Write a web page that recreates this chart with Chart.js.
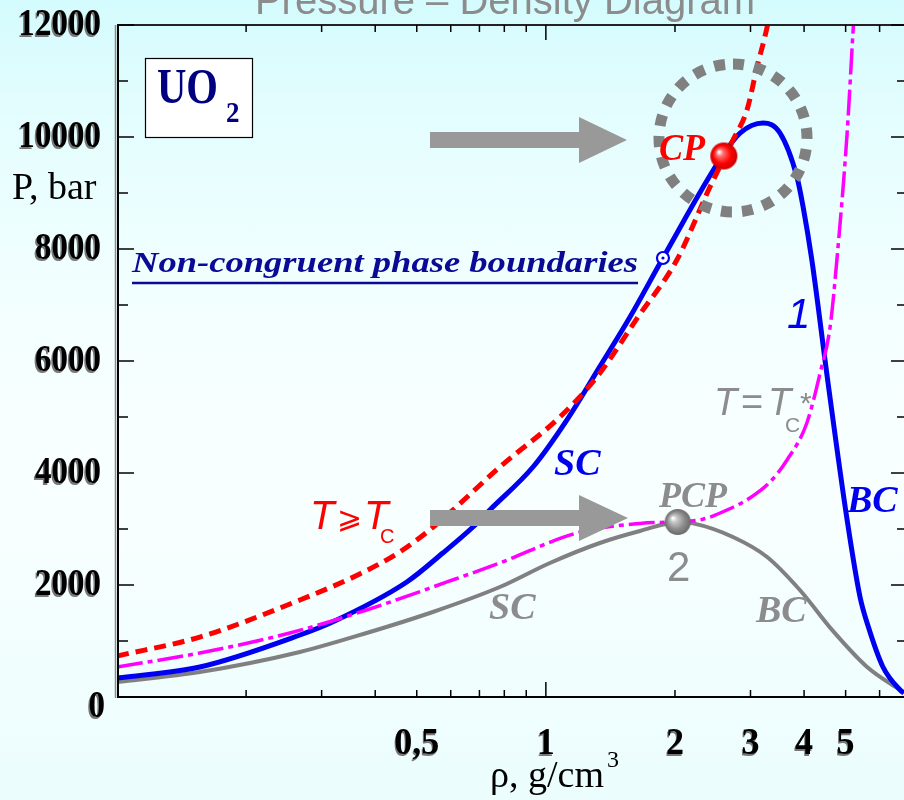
<!DOCTYPE html>
<html><head><meta charset="utf-8">
<script src="https://cdn.jsdelivr.net/npm/chart.js@4.4.1/dist/chart.umd.min.js"></script>
<style>
html,body{margin:0;padding:0;width:904px;height:800px;overflow:hidden;
background:linear-gradient(to bottom,#d4fbfd 0%,#e4fdfe 15%,#f4ffff 40%,#f9ffff 60%,#f2fefe 82%,#ebfdfd 100%);}
canvas{display:block}
</style></head><body>
<canvas id="c" width="904" height="800"></canvas>
<script>
// ---- data (density in g/cm3, pressure in bar) ----
const rhoCurve1 = [0.1,0.156,0.267,0.318,0.474,0.575,0.676,0.74,0.933,1.119,1.336,1.571,1.875,2.588,2.836,3.21,3.515,3.85,3.98,4.17,4.53,5.04,5.4,5.65,6.11,6.7,6.84];
const pCurve1   = [339,536,1107,1339,2054,2571,3036,3339,4107,4946,5900,6786,7839,9679,10071,10250,10071,9286,8750,7804,5714,3161,1790,1250,536,125,70];
const rhoTc = [0.1,0.156,0.267,0.368,0.456,0.536,0.607,0.781,1.078,1.315,1.64,2.02,2.413,2.73,2.944,3.107,3.28,3.4];
const pTc   = [732,1071,1732,2196,2589,2982,3339,4107,5000,5714,6786,7804,9107,9946,10482,11250,11964,12600];
const rhoTcStar = [0.1,0.156,0.253,0.382,0.588,0.781,1.181,1.657,2.03,2.324,2.644,2.99,3.33,3.65,4.06,4.36,4.6,4.77,5.04,5.2,5.26];
const pTcStar   = [536,786,1143,1554,2054,2393,2929,3100,3130,3175,3339,3554,3839,4232,4893,5786,6607,7804,10071,11857,12500];
const rhoCurve2 = [0.1,0.156,0.267,0.382,0.545,0.781,1.022,1.336,1.657,2.03,2.203,2.73,3.28,3.91,4.67,5.61,6.7,6.84];
const pCurve2   = [268,446,804,1143,1518,1964,2393,2750,2964,3120,3100,2857,2500,1911,1180,536,125,80];
const rhoCP = [2.60], pCP = [9661];
const rhoPCP = [2.03], pPCP = [3125];
const rhoMark = [1.875], pMark = [7839];
// ---- ticks ----
const xLabelValues = [0.5,1,2,3,4,5];
const xLabelTexts  = ['0,5','1','2','3','4','5'];
const xMinorTicks  = [0.2,0.3,0.4,0.5,0.6,0.7,0.8,0.9,2,3,4,5,6];
const xMajorTicks  = [1];
const yLabelValues = [0,2000,4000,6000,8000,10000,12000];
const yMinorTicks  = [1000,3000,5000,7000,9000,11000];

const pts = (xs, ys) => xs.map((x, i) => ({x: x, y: ys[i]}));

function makeBall(r, hi, mid, edge) {
  const cv = document.createElement('canvas');
  cv.width = cv.height = 2 * r + 2;
  const g = cv.getContext('2d');
  const c = r + 1;
  const grad = g.createRadialGradient(c - r * 0.38, c - r * 0.3, r * 0.05, c, c, r);
  grad.addColorStop(0, '#ffffff');
  grad.addColorStop(0.22, hi);
  grad.addColorStop(0.65, mid);
  grad.addColorStop(1, edge);
  g.fillStyle = grad;
  g.beginPath(); g.arc(c, c, r, 0, Math.PI * 2); g.fill();
  return cv;
}
const redBall = makeBall(13.5, '#ff7070', '#ff0000', '#c80000');
const grayBall = makeBall(13, '#c8c8c8', '#8c8c8c', '#6a6a6a');

function drawScaled(ctx, s, x, y, font, color, sx, align) {
  ctx.save();
  ctx.font = font; ctx.fillStyle = color; ctx.textAlign = align || 'left';
  ctx.textBaseline = 'alphabetic';
  ctx.translate(x, y); ctx.scale(sx, 1);
  ctx.fillText(s, 0, 0);
  ctx.restore();
}
function drawFit(ctx, s, x, y, font, color, w) {
  ctx.save(); ctx.font = font;
  const m = ctx.measureText(s).width;
  ctx.restore();
  drawScaled(ctx, s, x, y, font, color, w / m, 'left');
}
function arrow(ctx, x0, xh, x1, yc, sh, hh, color) {
  ctx.save();
  ctx.fillStyle = color;
  ctx.beginPath();
  ctx.moveTo(x0, yc - sh / 2); ctx.lineTo(xh, yc - sh / 2); ctx.lineTo(xh, yc - hh / 2);
  ctx.lineTo(x1, yc); ctx.lineTo(xh, yc + hh / 2); ctx.lineTo(xh, yc + sh / 2);
  ctx.lineTo(x0, yc + sh / 2); ctx.closePath(); ctx.fill();
  ctx.restore();
}
function line(ctx, x0, y0, x1, y1) { ctx.beginPath(); ctx.moveTo(x0, y0); ctx.lineTo(x1, y1); ctx.stroke(); }

const decor = {
  id: 'decor',
  beforeDatasetsDraw(chart) {
    const ctx = chart.ctx;
    ctx.save();
    ctx.font = '40px "Liberation Sans", Arial, sans-serif';
    ctx.fillStyle = '#8c8c8c'; ctx.textAlign = 'center';
    ctx.fillText('Pressure \u2013 Density Diagram', 505, 14);
    ctx.restore();
    ctx.save();
    ctx.fillStyle = '#ffffff'; ctx.fillRect(145, 58, 108, 80);
    ctx.strokeStyle = '#000'; ctx.lineWidth = 1.2; ctx.strokeRect(145.5, 58.5, 107, 79);
    ctx.restore();
    drawFit(ctx, 'UO', 157, 103, 'bold 50px "Liberation Serif", serif', '#000080', 61);
    drawScaled(ctx, '2', 226, 122, 'bold 30px "Liberation Serif", serif', '#000080', 0.9);
    drawFit(ctx, 'Non-congruent phase boundaries', 132, 272, 'italic bold 30px "Liberation Serif", serif', '#0a0a96', 506);
    ctx.save(); ctx.strokeStyle = '#0a0a96'; ctx.lineWidth = 2.5; line(ctx, 132, 283, 638, 283); ctx.restore();
  },
  afterDatasetsDraw(chart) {
    const ctx = chart.ctx, a = chart.chartArea, xs = chart.scales.x, ys = chart.scales.y;
    ctx.save();
    ctx.strokeStyle = '#8a8a8a'; ctx.lineWidth = 1.5; line(ctx, a.left - 1.5, a.top, a.left - 1.5, a.bottom + 1);
    ctx.strokeStyle = '#000'; ctx.lineWidth = 2; line(ctx, a.left + 1, a.top, a.left + 1, a.bottom + 1);
    line(ctx, a.left, a.bottom, a.right, a.bottom);
    ctx.strokeStyle = '#222'; line(ctx, a.left, a.top, a.right, a.top);
    ctx.lineWidth = 1.5; ctx.strokeStyle = '#000';
    const rx = a.right + 4;
    xMinorTicks.forEach(v => { const p = xs.getPixelForValue(v); line(ctx, p, a.bottom, p, a.bottom - 7); line(ctx, p, a.top, p, a.top + 7); });
    xMajorTicks.forEach(v => { const p = xs.getPixelForValue(v); line(ctx, p, a.bottom, p, a.bottom - 15); line(ctx, p, a.top, p, a.top + 15); });
    yLabelValues.forEach(v => { const p = ys.getPixelForValue(v); line(ctx, a.left, p, a.left + 17, p); line(ctx, rx, p, rx - 17, p); });
    yMinorTicks.forEach(v => { const p = ys.getPixelForValue(v); line(ctx, a.left, p, a.left + 11, p); line(ctx, rx, p, rx - 11, p); });
    ctx.restore();
    yLabelValues.forEach(v => {
      const p = ys.getPixelForValue(v) + (v === 0 ? 20 : 10);
      const xr = v === 0 ? 105 : 101;
      drawScaled(ctx, String(v), xr - 1.5, p + 1.5, 'bold 38px "Liberation Serif", serif', '#777', 0.87, 'right');
      drawScaled(ctx, String(v), xr, p, 'bold 38px "Liberation Serif", serif', '#000', 0.87, 'right');
    });
    xLabelValues.forEach((v, i) => {
      const p = xs.getPixelForValue(v);
      drawScaled(ctx, xLabelTexts[i], p - 1, 755.5, 'bold 38px "Liberation Serif", serif', '#777', 0.95, 'center');
      drawScaled(ctx, xLabelTexts[i], p, 754, 'bold 38px "Liberation Serif", serif', '#000', 0.95, 'center');
    });
    drawScaled(ctx, 'P, bar', 12, 199, '38px "Liberation Serif", serif', '#000', 1, 'left');
    drawScaled(ctx, '\u03c1, g/cm', 490, 787, '38px "Liberation Serif", serif', '#000', 1, 'left');
    drawScaled(ctx, '3', 607, 767, '24px "Liberation Serif", serif', '#000', 1, 'left');
    arrow(ctx, 430, 579, 627, 140, 16, 46, '#999999');
    arrow(ctx, 430, 579, 628, 518, 16, 46, '#999999');
    ctx.save();
    ctx.strokeStyle = '#808080'; ctx.lineWidth = 11; ctx.setLineDash([11, 10.2]);
    ctx.beginPath(); ctx.arc(733, 138, 74, -Math.PI / 2, Math.PI * 1.5); ctx.stroke();
    ctx.restore();
    const serifBI = 'italic bold 38px "Liberation Serif", serif';
    drawScaled(ctx, 'CP', 659, 160, serifBI, '#ff0000', 0.95);
    drawScaled(ctx, 'SC', 554, 475, serifBI, '#0000f0', 1);
    drawScaled(ctx, 'BC', 847, 512, serifBI, '#0000f0', 1);
    drawScaled(ctx, 'PCP', 659, 507, 'italic bold 36px "Liberation Serif", serif', '#8c8c8c', 1);
    drawScaled(ctx, 'SC', 489, 619, serifBI, '#8c8c8c', 1);
    drawScaled(ctx, 'BC', 756, 622, serifBI, '#8c8c8c', 1);
    drawScaled(ctx, '1', 787, 328, 'italic 42px "Liberation Sans", sans-serif', '#0000f0', 1);
    drawScaled(ctx, '2', 667, 581, '42px "Liberation Sans", sans-serif', '#8c8c8c', 1);
    drawScaled(ctx, 'T', 310, 529, 'italic 40px "Liberation Sans", sans-serif', '#ff0000', 1);
    drawScaled(ctx, '\u2a7e', 337, 528, '30px "DejaVu Sans", sans-serif', '#ff0000', 1);
    drawScaled(ctx, 'T', 364, 529, 'italic 40px "Liberation Sans", sans-serif', '#ff0000', 1);
    drawScaled(ctx, 'C', 380, 543, '20px "Liberation Sans", sans-serif', '#ff0000', 1);
    drawScaled(ctx, 'T', 714, 415, 'italic 38px "Liberation Sans", sans-serif', '#8c8c8c', 1);
    drawScaled(ctx, '=', 741, 415, '38px "Liberation Sans", sans-serif', '#8c8c8c', 1);
    drawScaled(ctx, 'T', 768, 415, 'italic 38px "Liberation Sans", sans-serif', '#8c8c8c', 1);
    drawScaled(ctx, 'C', 785, 432, '21px "Liberation Sans", sans-serif', '#8c8c8c', 1);
    drawScaled(ctx, '*', 800, 413, '30px "Liberation Sans", sans-serif', '#8c8c8c', 1);
  }
};

new Chart(document.getElementById('c'), {
  type: 'scatter',
  data: {
    datasets: [
      { label: 'CP', data: pts(rhoCP, pCP), pointStyle: redBall, pointRadius: 13, showLine: false },
      { label: 'PCP', data: pts(rhoPCP, pPCP), pointStyle: grayBall, pointRadius: 13, showLine: false },
      { label: 'dot', data: pts(rhoMark, pMark), pointRadius: 1.6, backgroundColor: '#0000f0', borderWidth: 0, showLine: false },
      { label: 'mark', data: pts(rhoMark, pMark), pointRadius: 6, backgroundColor: '#ffffff', borderColor: '#0000f0', borderWidth: 2.2, showLine: false },
      { label: 'T = Tc*', data: pts(rhoTcStar, pTcStar), showLine: true, borderColor: '#ff00ff', borderWidth: 3.5, borderDash: [26, 5, 5, 5], pointRadius: 0, cubicInterpolationMode: 'monotone', fill: false },
      { label: 'T >= Tc', data: pts(rhoTc, pTc), showLine: true, borderColor: '#ff0000', borderWidth: 5, borderDash: [12, 7], pointRadius: 0, cubicInterpolationMode: 'monotone', fill: false },
      { label: '1', data: pts(rhoCurve1, pCurve1), showLine: true, borderColor: '#0000f0', borderWidth: 5, pointRadius: 0, cubicInterpolationMode: 'monotone', fill: false },
      { label: '2', data: pts(rhoCurve2, pCurve2), showLine: true, borderColor: '#808080', borderWidth: 4, pointRadius: 0, cubicInterpolationMode: 'monotone', fill: false }
    ]
  },
  options: {
    responsive: false, animation: false, devicePixelRatio: 1,
    layout: { autoPadding: false, padding: { left: 117, top: 25, right: 0, bottom: 103 } },
    plugins: { legend: { display: false }, tooltip: { enabled: false }, title: { display: false } },
    scales: {
      x: { type: 'logarithmic', min: 0.1, max: 6.84, ticks: { display: false }, grid: { display: false, drawTicks: false }, border: { display: false } },
      y: { type: 'linear', min: 0, max: 12000, ticks: { display: false }, grid: { display: false, drawTicks: false }, border: { display: false } }
    }
  },
  plugins: [decor]
});
</script>
</body></html>
